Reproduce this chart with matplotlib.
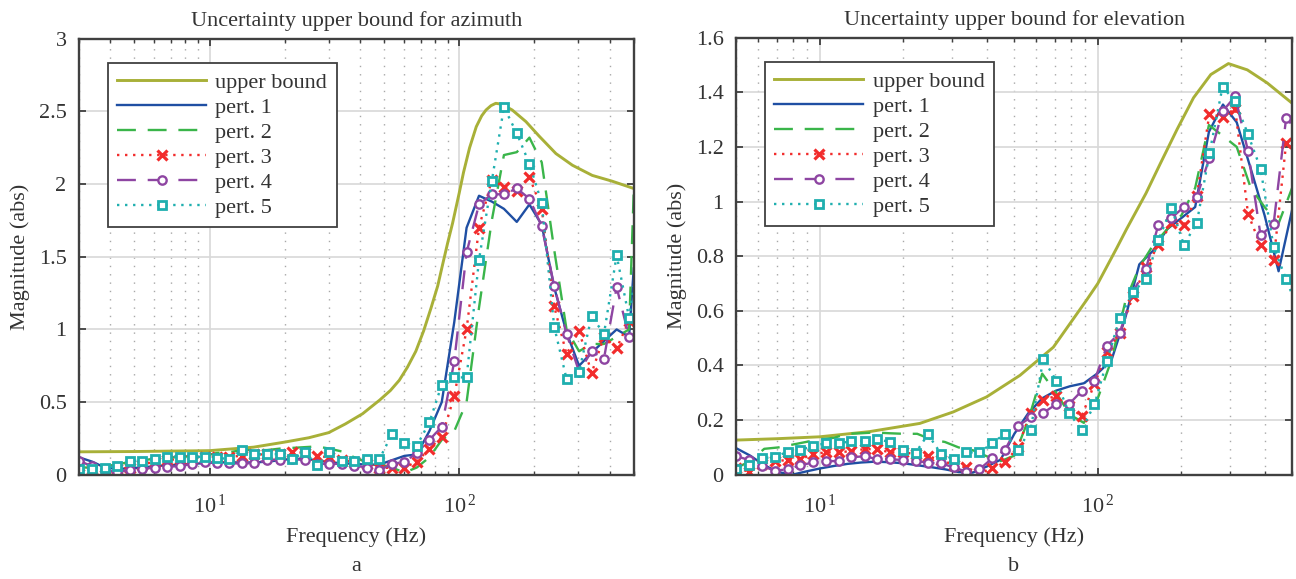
import matplotlib
matplotlib.use('Agg')
import matplotlib.pyplot as plt
from matplotlib.ticker import FixedLocator, FixedFormatter, LogLocator, NullFormatter

plt.rcParams['font.family'] = ['Liberation Serif', 'DejaVu Serif']
plt.rcParams['mathtext.fontset'] = 'custom'
plt.rcParams['mathtext.rm'] = 'Liberation Serif'
plt.rcParams['mathtext.it'] = 'Liberation Serif:italic'

# ---------------- data: panel a (azimuth) ----------------
ub_freq_a = [3, 5, 10, 15, 20, 25, 30, 35, 41, 48, 53, 57.5, 62, 67, 72, 77, 82, 86,
             90, 94, 100, 104, 110, 117, 123, 128, 134, 140, 148, 163, 185, 209, 244,
             284, 341, 410, 500]
ub_val_a = [0.158, 0.16, 0.166, 0.19, 0.225, 0.255, 0.29, 0.35, 0.42, 0.514, 0.58,
            0.65, 0.74, 0.85, 0.99, 1.145, 1.3, 1.455, 1.6, 1.73, 1.94, 2.08, 2.25,
            2.395, 2.47, 2.51, 2.54, 2.556, 2.55, 2.51, 2.43, 2.33, 2.21, 2.13, 2.06,
            2.02, 1.97]

freq_a = [3.0, 3.39, 3.80, 4.27, 4.79, 5.37, 6.03, 6.76, 7.59, 8.51, 9.55, 10.7, 12.0,
          13.5, 15.1, 17.0, 19.1, 21.4, 24.0, 26.9, 30.2, 33.9, 38.0, 42.7, 47.9, 53.7,
          60.3, 67.6, 75.9, 85.1, 95.5, 107, 120, 135, 151, 170, 191, 214, 240, 269,
          302, 339, 380, 427, 479, 500]
p1_a = [0.12, 0.09, 0.05, 0.04, 0.045, 0.05, 0.06, 0.065, 0.07, 0.075, 0.08, 0.085,
        0.085, 0.085, 0.085, 0.09, 0.1, 0.11, 0.11, 0.1, 0.085, 0.08, 0.075, 0.07, 0.07,
        0.1, 0.13, 0.14, 0.3, 0.5, 1.05, 1.7, 1.92, 1.88, 1.83, 1.74, 1.86, 1.72, 1.29,
        0.98, 0.75, 0.84, 0.92, 1.0, 0.95, 1.42]
p2_a = [0.05, 0.05, 0.06, 0.07, 0.09, 0.1, 0.11, 0.12, 0.12, 0.13, 0.13, 0.15, 0.155,
        0.17, 0.17, 0.17, 0.18, 0.185, 0.19, 0.195, 0.18, 0.16, 0.12, 0.085, 0.07, 0.05,
        0.015, 0.05, 0.12, 0.24, 0.3, 0.5, 1.15, 1.75, 2.2, 2.22, 2.32, 2.15, 1.55, 1.0,
        0.85, 0.9, 0.9, 0.95, 1.0, 1.95]
p3_a = [0.06, 0.04, 0.0, 0.04, 0.05, 0.07, 0.09, 0.1, 0.11, 0.11, 0.12, 0.125, 0.125,
        0.13, 0.14, 0.14, 0.14, 0.16, 0.15, 0.13, 0.12, 0.1, 0.09, 0.075, 0.045, 0.05,
        0.05, 0.09, 0.18, 0.26, 0.54, 1.0, 1.7, 2.03, 1.98, 1.95, 2.05, 1.83, 1.16, 0.83,
        0.99, 0.7, 0.95, 0.87, 1.06, 1.1]
p4_a = [0.093, 0.06, 0.03, 0.02, 0.03, 0.04, 0.05, 0.055, 0.06, 0.075, 0.088, 0.08,
        0.078, 0.078, 0.08, 0.1, 0.105, 0.11, 0.1, 0.075, 0.075, 0.075, 0.063, 0.05,
        0.03, 0.075, 0.088, 0.15, 0.24, 0.33, 0.78, 1.53, 1.86, 1.93, 1.93, 1.97, 1.9,
        1.71, 1.3, 0.97, 0.71, 0.85, 0.8, 1.29, 0.95, 0.95]
p5_a = [0.037, 0.037, 0.05, 0.06, 0.096, 0.096, 0.11, 0.124, 0.124, 0.124, 0.124, 0.115,
        0.11, 0.17, 0.142, 0.142, 0.142, 0.106, 0.156, 0.065, 0.156, 0.096, 0.096, 0.108,
        0.108, 0.278, 0.216, 0.2, 0.36, 0.62, 0.67, 0.67, 1.48, 2.02, 2.53, 2.35, 2.14,
        1.87, 1.02, 0.66, 0.71, 1.09, 0.97, 1.51, 1.08, 1.3]

# ---------------- data: panel b (elevation) ----------------
ub_freq_b = [5, 7, 10, 15.1, 22.9, 30.2, 39.8, 52.5, 69.2, 91.2, 100, 117, 127, 149,
             168, 193, 221, 255, 295, 345, 407, 500]
ub_val_b = [0.127, 0.132, 0.139, 0.158, 0.188, 0.23, 0.285, 0.364, 0.467, 0.64, 0.70,
            0.83, 0.90, 1.03, 1.14, 1.265, 1.38, 1.465, 1.505, 1.482, 1.434, 1.36]

freq_b = [5.01, 5.62, 6.31, 7.08, 7.94, 8.91, 10.0, 11.2, 12.6, 14.1, 15.8, 17.8, 20.0,
          22.4, 25.1, 28.2, 31.6, 35.5, 39.8, 44.7, 50.1, 56.2, 63.1, 70.8, 79.4, 89.1,
          100, 112, 126, 141, 158, 178, 200, 224, 251, 282, 316, 355, 398, 447, 500]
p1_b = [0.097, 0.07, 0.035, 0.01, 0.0, 0.012, 0.023, 0.032, 0.04, 0.045, 0.048, 0.046,
        0.042, 0.035, 0.028, 0.02, 0.01, 0.008, 0.03, 0.055, 0.15, 0.225, 0.28, 0.308,
        0.324, 0.335, 0.372, 0.42, 0.58, 0.77, 0.82, 0.9, 0.94, 0.98, 1.255, 1.355, 1.29,
        1.12, 0.95, 0.745, 0.97]
p2_b = [0.025, 0.05, 0.095, 0.1, 0.11, 0.12, 0.13, 0.135, 0.15, 0.152, 0.155, 0.152,
        0.15, 0.15, 0.13, 0.12, 0.1, 0.09, 0.068, 0.05, 0.07, 0.2, 0.37, 0.3, 0.22, 0.19,
        0.28, 0.42, 0.64, 0.76, 0.84, 0.9, 0.95, 1.05, 1.28, 1.24, 1.2, 1.05, 0.98, 0.92,
        1.05]

freq_bm = [5.01, 5.57, 6.19, 6.89, 7.66, 8.51, 9.46, 10.5, 11.7, 13.0, 14.5, 16.1, 17.9,
           19.9, 22.1, 24.5, 27.3, 30.3, 33.7, 37.5, 41.7, 46.3, 51.5, 57.3, 63.7, 70.8,
           78.7, 87.5, 97.3, 108, 120, 134, 149, 165, 184, 204, 227, 252, 281, 312, 347,
           385, 429, 476, 500]
p3_b = [0.025, 0.011, 0.04, 0.05, 0.054, 0.057, 0.076, 0.082, 0.082, 0.087, 0.094, 0.093,
        0.082, 0.082, 0.076, 0.068, 0.054, 0.035, 0.027, 0.005, 0.023, 0.045, 0.1, 0.227,
        0.273, 0.289, 0.25, 0.214, 0.333, 0.45, 0.52, 0.655, 0.76, 0.84, 0.92, 0.915,
        1.02, 1.32, 1.31, 1.34, 0.955, 0.84, 0.785, 1.215, 1.2]
p4_b = [0.068, 0.054, 0.032, 0.015, 0.02, 0.035, 0.045, 0.05, 0.05, 0.064, 0.068, 0.057,
        0.057, 0.054, 0.051, 0.044, 0.042, 0.027, 0.011, 0.02, 0.06, 0.09, 0.178, 0.21,
        0.227, 0.258, 0.258, 0.307, 0.345, 0.473, 0.52, 0.67, 0.755, 0.913, 0.94, 0.98,
        1.016, 1.16, 1.33, 1.385, 1.185, 0.876, 0.918, 1.307, 1.28]
p5_b = [0.02, 0.035, 0.06, 0.066, 0.084, 0.09, 0.106, 0.115, 0.115, 0.123, 0.123, 0.13,
        0.12, 0.09, 0.08, 0.148, 0.076, 0.057, 0.082, 0.082, 0.115, 0.15, 0.09, 0.165,
        0.424, 0.345, 0.227, 0.164, 0.258, 0.418, 0.575, 0.67, 0.715, 0.858, 0.977,
        0.842, 0.921, 1.176, 1.42, 1.367, 1.246, 1.12, 0.834, 0.715, 0.66]

labels = ['upper bound', 'pert. 1', 'pert. 2', 'pert. 3', 'pert. 4', 'pert. 5']
titles = ['Uncertainty upper bound for azimuth', 'Uncertainty upper bound for elevation']
yticks_a = [0, 0.5, 1, 1.5, 2, 2.5, 3]
yticks_b = [0, 0.2, 0.4, 0.6, 0.8, 1.0, 1.2, 1.4, 1.6]
ytick_labels_a = ['0', '0.5', '1', '1.5', '2', '2.5', '3']
ytick_labels_b = ['0', '0.2', '0.4', '0.6', '0.8', '1', '1.2', '1.4', '1.6']

C_UB = '#A8B038'
C1 = '#1F4FA3'
C2 = '#3AB54A'
C3 = '#F22C2C'
C4 = '#8E45A2'
C5 = '#1FAFAF'
TXT = '#333333'
AX = '#404040'
FS = 16

fig = plt.figure(figsize=(12.96, 5.79), dpi=100)
ax_a = fig.add_axes([0.061, 0.180, 0.428, 0.753])
ax_b = fig.add_axes([0.568, 0.180, 0.429, 0.755])


def draw(ax, ubf, ubv, f12, s1, s2, f345, s3, s4, s5):
    lw = 1.7
    ax.plot(ubf, ubv, color=C_UB, lw=2.1, label=labels[0])
    ax.plot(f12, s1, color=C1, lw=lw, label=labels[1])
    ax.plot(f12, s2, color=C2, lw=lw, dashes=(8, 5), label=labels[2])
    mk = list(range(len(f345) - 1))
    ax.plot(f345, s3, color=C3, lw=lw, dashes=(1, 2.4), marker='x', ms=6.5, mew=2.3,
            markevery=mk, label=labels[3])
    ax.plot(f345, s4, color=C4, lw=lw, dashes=(8, 5), marker='o', ms=6, mew=1.7,
            mfc='white', markevery=mk, label=labels[4])
    ax.plot(f345, s5, color=C5, lw=lw, dashes=(1, 2.4), marker='s', ms=6.3, mew=2.0,
            mfc='white', markevery=mk, label=labels[5])


def style(ax, xlim, yt, ytl, title, cap, xc):
    ax.set_xscale('log')
    ax.set_xlim(*xlim)
    ax.set_ylim(yt[0], yt[-1])
    ax.set_yticks(yt)
    ax.set_yticklabels(ytl)
    ax.xaxis.set_major_locator(FixedLocator([10, 100]))
    ax.xaxis.set_major_formatter(FixedFormatter([r'$\mathregular{10^{\,1}}$',
                                                 r'$\mathregular{10^{\,2}}$']))
    ax.xaxis.set_minor_locator(LogLocator(base=10, subs=[2, 3, 4, 5, 6, 7, 8, 9], numticks=20))
    ax.xaxis.set_minor_formatter(NullFormatter())
    ax.set_axisbelow(True)
    ax.grid(True, which='major', color='#d8d8d8', lw=1.2, ls='-')
    ax.grid(True, which='minor', axis='x', color='#a8a8a8', lw=1.0, ls=(0, (1, 5)))
    ax.tick_params(which='both', direction='in', top=True, right=True, color=AX,
                   labelcolor=TXT, labelsize=FS)
    ax.tick_params(which='major', length=5, width=1.3)
    ax.tick_params(which='minor', length=3, width=1.0)
    ax.tick_params(axis='x', which='major', pad=14)
    ax.tick_params(axis='y', which='major', pad=9)
    for s in ax.spines.values():
        s.set_color(AX)
        s.set_linewidth(1.7)
    ax.set_title(title, fontsize=FS, color=TXT, pad=9)
    ax.set_xlabel('Frequency (Hz)', fontsize=FS, color=TXT, labelpad=7)
    ax.set_ylabel('Magnitude (abs)', fontsize=FS, color=TXT, labelpad=6)
    leg = ax.legend(loc='upper left', bbox_to_anchor=(0.052, 0.944), borderaxespad=0,
                    fancybox=False, framealpha=1, edgecolor=AX, fontsize=FS,
                    handlelength=4.0, handletextpad=0.42, labelspacing=0.2,
                    borderpad=0.42, numpoints=1)
    leg.get_frame().set_linewidth(1.3)
    for t in leg.get_texts():
        t.set_color(TXT)
    fig.text(xc, 0.022, cap, ha='center', va='center', fontsize=FS, color=TXT)


draw(ax_a, ub_freq_a, ub_val_a, freq_a, p1_a, p2_a, freq_a, p3_a, p4_a, p5_a)
style(ax_a, (3, 500), yticks_a, ytick_labels_a, titles[0], 'a', 0.275)
draw(ax_b, ub_freq_b, ub_val_b, freq_b, p1_b, p2_b, freq_bm, p3_b, p4_b, p5_b)
style(ax_b, (5, 500), yticks_b, ytick_labels_b, titles[1], 'b', 0.782)

fig.savefig('out.png', dpi=100)
